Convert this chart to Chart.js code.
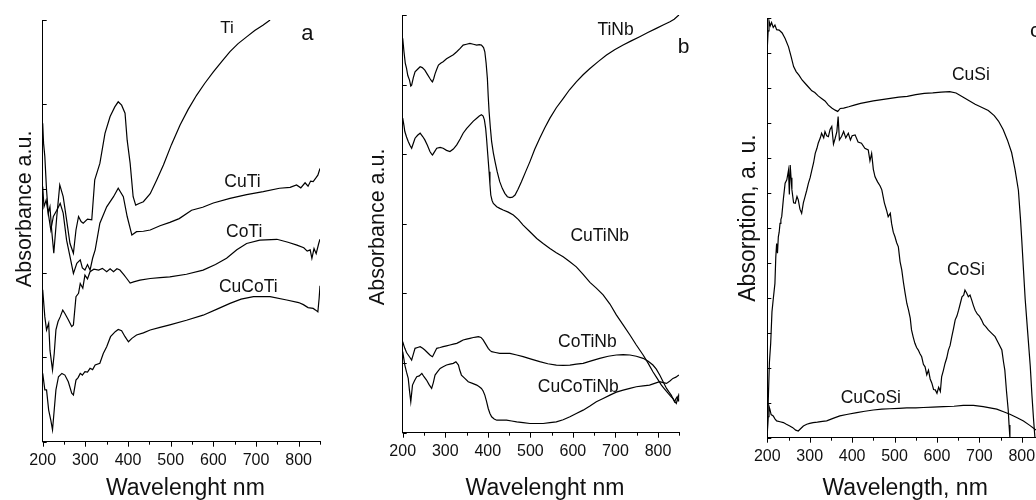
<!DOCTYPE html>
<html>
<head>
<meta charset="utf-8">
<script src="https://cdn.jsdelivr.net/npm/chart.js@4.4.1/dist/chart.umd.min.js"></script>
<style>
  html, body { margin: 0; padding: 0; background: #fff; overflow: hidden; }
  body { width: 1036px; height: 500px; position: relative; }
  .panel { position: absolute; top: 0; height: 500px; }
</style>
</head>
<body>
<div class="panel" style="left:0;width:340px"><canvas id="chartA"></canvas></div>
<div class="panel" style="left:340px;width:350px"><canvas id="chartB"></canvas></div>
<div class="panel" style="left:690px;width:360px"><canvas id="chartC"></canvas></div>
<script>
// --- DATA: [wavelength nm, absorbance a.u. (0-100)] ---

// panel a
const ti = [[200,75.5],[202,70.8],[205,67.6],[209,59.7],[213,54.2],[217,55.7],[221,50.2],[226,44.7],[233,53.4],[240,60.9],[248,58.1],[256,52.6],[264,47],[272,44.7],[278,50.2],[284,53.4],[290,52.2],[295,51.8],[305,52.8],[315,52.6],[322,62.1],[334,66],[346,73.1],[358,77.1],[369,79.4],[377,80.6],[385,79.8],[393,77.9],[398,71.5],[405,66],[412,58.1],[418,56.1],[426,56.5],[436,56.9],[452,58.8],[467,62],[483,65.6],[502,70.5],[522,75.1],[541,78.8],[561,82.2],[580,85],[600,87.7],[620,90.2],[639,92.5],[658,94.4],[678,96],[697,97.5],[717,98.8],[733,100]];
const cuTi = [[200,60.5],[203,55.7],[208,57.3],[213,54.2],[219,50.2],[225,53.4],[233,54.9],[241,56.5],[248,54.2],[256,47.8],[264,43.9],[272,39.9],[280,42.3],[288,43.1],[293,41.2],[299,40.7],[305,42],[311,40.7],[317,43.5],[323,45.5],[334,51.8],[350,55.7],[366,58.1],[377,60.1],[389,58.1],[398,53.4],[409,49],[420,49.8],[436,49.9],[452,50.2],[475,51.2],[498,52],[520,52.9],[549,54.9],[575,55.6],[600,56.6],[639,57.7],[678,58.6],[717,59.3],[755,60.1],[780,60.3],[795,60.9],[805,60.2],[815,61.4],[822,60.6],[828,61.8],[834,61.7],[840,62.5],[845,63.2],[850,64.8]];
const coTi = [[200,36],[205,29.6],[209,26.5],[214,28.1],[217,21.7],[223,17],[227,20.9],[231,26.5],[236,28.5],[241,29.6],[247,31.2],[252,30.4],[260,28.9],[268,27.3],[272,27.7],[278,34.4],[284,35.2],[288,37.5],[294,36.4],[299,39.5],[305,38.6],[311,40.3],[320,40.9],[331,40.7],[340,41.1],[350,40.3],[358,41],[366,40.3],[374,41],[381,40.7],[390,39.6],[397,38.7],[405,37.6],[413,37.9],[428,38.3],[452,38.7],[475,38.9],[498,39.1],[537,39.7],[576,40.7],[605,42],[631,43.5],[655,45.5],[678,47],[709,47.8],[749,48],[775,47.3],[796,46.6],[812,46],[820,45.2],[827,45.5],[831,43.5],[836,45.8],[841,44.6],[847,47],[850,48]];
const cuCoTi = [[200,16.2],[205,12.3],[209,12.3],[214,7.5],[219,5.1],[223,2.8],[227,7.5],[231,12.3],[237,15.4],[245,16.2],[252,15.8],[260,14.2],[268,11.5],[272,11.1],[278,14.6],[283,15.2],[288,16.2],[293,15.8],[299,16.6],[305,16.5],[311,17.4],[317,17.1],[323,18.2],[334,18.6],[342,20.9],[350,22.5],[359,24.9],[370,26.1],[377,26.6],[385,26.3],[393,24.9],[401,23.7],[409,24.5],[420,25.3],[436,25.8],[452,26.5],[475,27.1],[498,27.7],[537,28.8],[576,30],[610,31.5],[639,32.8],[665,33.8],[694,34.4],[733,34.4],[772,33.6],[800,33],[811,32.5],[822,31.8],[834,31.6],[840,31.2],[845,30.8],[848,34],[850,37]];

// panel b
const tiNb = [[200,94.4],[203,91.2],[206,88.5],[209,87.2],[212,85.5],[216,84.4],[219,83],[221,83.2],[225,85],[229,86.4],[235,87],[241,87.6],[246,87.4],[252,86.8],[258,85.8],[264,84.8],[268,84.2],[270,84],[273,84.8],[276,85.9],[280,87],[284,88],[290,88.5],[295,88.8],[303,89.5],[311,90],[319,90.5],[327,91.2],[335,92],[342,92.8],[350,93],[358,93.2],[366,93],[374,92.8],[380,92.9],[385,92.8],[390,92.2],[393,91.2],[396,88.5],[399,84.8],[401,80.5],[403,76.9],[406,73],[409,69.7],[413,67],[417,64.9],[422,62.5],[428,60.1],[434,58.5],[440,57.3],[446,56.5],[452,56.3],[458,56.4],[464,56.9],[471,58.3],[479,60.1],[489,62.5],[499,64.9],[510,67.8],[522,70.5],[534,73],[546,75.3],[561,77.8],[577,80],[592,82.1],[608,84],[624,85.7],[640,87.2],[660,88.9],[679,90.4],[698,91.7],[718,92.8],[737,93.8],[757,94.8],[776,95.8],[796,96.8],[812,97.6],[828,98.4],[838,99],[847,99.8],[850,100]];
const cuTiNb = [[200,75.3],[203,73.5],[205,72.1],[209,70.8],[213,69.7],[217,68.8],[221,68.1],[225,69.3],[229,70.5],[235,71.2],[241,71.7],[247,70.9],[252,70.1],[258,68.8],[264,67.3],[268,66.7],[270,66.5],[275,67.3],[280,68.1],[288,68.3],[295,68.1],[303,67.6],[311,67.3],[319,67.9],[327,68.9],[335,70.3],[342,71.7],[350,72.8],[358,73.7],[366,74.6],[374,75.3],[380,75.8],[385,76.1],[389,75.8],[392,74.9],[395,72.8],[397,70.5],[400,66.5],[403,62.5],[405,59.5],[407,56.9],[410,55.6],[413,54.9],[421,54.1],[428,53.7],[436,53.3],[448,52.8],[460,52.1],[472,51],[483,49.7],[499,48.1],[515,46.5],[530,45.3],[546,44.1],[561,43.1],[577,42.1],[592,41],[608,39.7],[624,37.9],[640,36],[655,34.6],[671,33],[687,30.8],[702,28.2],[718,25.8],[734,23.4],[749,21],[765,18.6],[777,16.6],[788,14.6],[798,13],[808,11.4],[816,10.4],[824,9.4],[830,8.7],[835,8.2],[839,7.5],[843,7],[846,8.2],[849,9]];
const coTiNb = [[200,21.8],[203,20.8],[205,20.2],[209,19.2],[213,18.6],[217,18],[221,17.4],[225,18.8],[229,20.2],[235,20.4],[241,20.6],[247,20.2],[252,19.8],[258,19.2],[264,18.6],[268,18.3],[270,18.2],[275,19.2],[280,20.2],[288,20.4],[295,20.6],[303,20.8],[311,21],[319,21.2],[327,21.4],[335,21.8],[342,22.2],[350,22.4],[358,22.6],[366,22.8],[372,22.9],[378,23],[384,22.8],[389,22.2],[395,21.2],[401,20.2],[405,19.7],[409,19.4],[418,19.2],[428,19],[440,19],[452,19],[468,18.6],[483,18.2],[502,17.6],[522,17],[541,16.5],[561,16.2],[577,16.1],[593,16.2],[608,16.4],[624,16.6],[643,17.2],[663,17.8],[683,18.3],[702,18.6],[718,18.7],[734,18.6],[749,18.3],[765,17.8],[777,17.1],[788,16.2],[796,15.2],[804,13.8],[812,12.2],[820,10.6],[826,9.7],[831,9],[835,8.2],[839,7.4],[842,8.1],[845,8.6],[847,7.6],[849,9.4]];
const cuCoTiNb = [[200,19.4],[203,17.5],[205,16.2],[209,14.5],[213,13],[216,10],[219,7.4],[223,11.4],[228,12.5],[233,13.4],[239,13.6],[245,14.2],[250,13.4],[256,12.6],[262,11.5],[268,10.6],[272,12],[276,13.8],[282,14.6],[288,15.4],[295,15.8],[303,16.2],[311,16.4],[319,16.6],[325,17],[331,16.2],[334,15],[338,13.8],[346,13],[354,12.2],[364,11.8],[374,11.4],[380,11],[385,10.6],[389,10],[393,9],[397,7.5],[401,5.8],[405,4.6],[409,3.8],[415,3.3],[421,3],[433,3],[444,3],[456,2.8],[468,2.6],[483,2.4],[499,2.2],[515,2.2],[530,2.2],[546,2.4],[561,2.6],[577,3.1],[593,3.8],[608,4.6],[624,5.4],[640,6.4],[655,7.4],[671,8.2],[687,9],[702,9.7],[718,10.2],[734,10.6],[749,11],[765,11.2],[780,11.4],[792,11.8],[804,12.2],[812,12],[820,11.8],[828,12.4],[835,13],[842,13.3],[849,13.8]];

// panel c
const cuSi = [[200,93],[202,97],[204,99.4],[207,98.2],[210,99],[214,97.8],[218,98.4],[222,97.3],[228,97.2],[235,96.5],[242,95.2],[250,93.2],[256,90.9],[262,88.5],[268,87.3],[275,86.4],[282,85.3],[290,84.4],[298,83.5],[305,82.7],[312,82.3],[320,81.5],[328,80.9],[336,80.3],[344,79.3],[352,78.6],[360,78.1],[366,77.8],[372,78.5],[380,78.6],[392,78.9],[405,79.3],[420,79.7],[435,80],[450,80.3],[470,80.6],[490,80.9],[510,81.2],[530,81.4],[550,81.8],[570,82.1],[590,82.2],[610,82.4],[630,82.5],[645,82.2],[660,81.3],[675,80.4],[690,79.5],[705,78.8],[721,78],[735,76.8],[745,75.5],[756,73.5],[766,71],[776,68],[784,64],[792,59],[797,52],[800,47],[804,40],[808,33],[814,25],[820,17],[824,10],[828,4],[831,0]];
const coSi = [[200,0.2],[202,8],[205,18],[208,22.5],[211,30],[214,33],[218,36.8],[220,43],[222,46.3],[224,44],[226,47.9],[228,49],[230,51.1],[232,52],[234,52.7],[238,57],[242,60.7],[246,61.5],[250,63.8],[252,58],[254,65],[256,62],[258,59.1],[262,56],[266,55.9],[270,57.5],[273,56.7],[277,54.5],[281,53.5],[285,56],[289,57.5],[293,59],[297,60.7],[301,62],[305,63.8],[309,65.5],[313,67.8],[317,69],[320,70.2],[325,71.5],[328,72.6],[333,71.5],[336,73],[340,72],[344,71.8],[348,73.5],[352,74.2],[356,70],[360,71.4],[364,73],[367,76.6],[370,71],[375,71.8],[380,73],[385,71.5],[391,72.6],[396,71],[400,72],[407,72.2],[414,70.5],[422,70.2],[430,69],[438,68.6],[442,66],[446,67.8],[450,64],[454,62.2],[460,61],[466,60],[470,59.1],[476,56],[481,54.3],[485,52.7],[490,53.5],[493,51.1],[497,49],[501,47.9],[505,46.5],[509,45.5],[513,42],[517,40],[521,37],[525,34.4],[529,32],[533,30.4],[537,28.5],[540,25.7],[544,24],[548,22.5],[552,21.5],[556,20.9],[560,20],[564,19.3],[568,17.5],[572,16.9],[576,15],[580,16.1],[584,14],[588,13],[592,11.5],[596,11.4],[600,10.6],[604,12],[608,11],[611,14.5],[615,16],[619,17.7],[623,19],[627,20.9],[631,22],[635,24.1],[639,26],[643,28.1],[647,29],[651,30.4],[655,32],[659,33.6],[663,34],[666,35.2],[670,34.5],[674,33.6],[678,34],[682,32.8],[686,31.5],[690,30.4],[695,29.5],[700,29],[705,28.1],[710,27],[715,26.5],[721,25.7],[728,25],[737,24.1],[745,22.5],[753,20.9],[757,18],[760,16.1],[764,11],[768,6.6],[770,3],[772,0]];
const cuCoSi = [[200,1.5],[202,5],[204,7.5],[206,6.8],[209,5.5],[214,5.2],[218,4.5],[222,4],[230,3.8],[238,3.6],[245,3.2],[253,2.8],[260,2.4],[267,1.8],[273,1.6],[279,2.2],[285,2.8],[293,3.2],[300,3.4],[308,3.6],[318,3.7],[330,3.9],[340,4],[355,4.6],[371,5.2],[390,5.6],[411,6],[430,6.3],[450,6.6],[470,6.8],[489,6.9],[510,7],[529,7.1],[550,7.1],[568,7.2],[590,7.3],[615,7.4],[640,7.5],[662,7.7],[686,7.7],[709,7.4],[725,7.1],[741,6.8],[757,6.2],[772,5.6],[788,4.8],[804,4],[818,3],[831,2],[840,1.5]];

const xTickLabels = [200, 300, 400, 500, 600, 700, 800];

const FONT = '"Liberation Sans", Arial, sans-serif';

// --- fungsi bikin satu panel ---
function makePanel(id, cfg) {
  const decor = {
    id: 'decor_' + id,
    afterDraw(chart) {
      const ctx = chart.ctx;
      const a = chart.chartArea;
      const x = chart.scales.x, y = chart.scales.y;
      ctx.save();
      ctx.strokeStyle = '#000';
      ctx.lineWidth = 1;
      ctx.beginPath();
      // tick bawah: mayor tiap 100, minor tiap 50
      for (let v = 200; v <= 850; v += 50) {
        const px = Math.round(x.getPixelForValue(v)) + 0.5;
        ctx.moveTo(px, a.bottom);
        ctx.lineTo(px, a.bottom + (v % 100 === 0 ? 5 : 3));
      }
      // tick kiri ke dalam
      y.ticks.forEach(t => {
        const py = Math.round(y.getPixelForValue(t.value)) + 0.5;
        ctx.moveTo(a.left, py);
        ctx.lineTo(a.left + 4, py);
      });
      ctx.stroke();

      ctx.fillStyle = '#111';
      ctx.textAlign = 'center';
      ctx.textBaseline = 'alphabetic';
      cfg.notes.forEach(n => {
        ctx.font = n.size + 'px ' + FONT;
        ctx.fillText(n.text, x.getPixelForValue(n.nm), y.getPixelForValue(n.au));
      });

      // judul sumbu
      ctx.textBaseline = 'middle';
      ctx.font = '23px ' + FONT;
      ctx.fillText(cfg.xTitle, (a.left + a.right) / 2 + cfg.xTitleDx, 488.5);
      ctx.translate(a.left - cfg.yTitleGap, (a.top + a.bottom) / 2 + cfg.yTitleDy);
      ctx.rotate(-Math.PI / 2);
      ctx.font = cfg.yTitleSize + 'px ' + FONT;
      ctx.fillText(cfg.yTitle, 0, 0);
      ctx.restore();
    }
  };

  return new Chart(document.getElementById(id), {
    type: 'line',
    data: {
      datasets: cfg.series.map(s => ({
        data: s.map(p => ({ x: p[0], y: p[1] })),
        borderColor: '#000',
        borderWidth: 1.2,
        pointRadius: 0,
        fill: false,
        tension: 0
      }))
    },
    options: {
      responsive: true,
      maintainAspectRatio: false,
      animation: false,
      events: [],
      layout: { padding: { top: cfg.area.top, right: cfg.width - cfg.area.right, left: 0, bottom: 0 } },
      plugins: { legend: { display: false }, tooltip: { enabled: false } },
      scales: {
        x: {
          type: 'linear', min: 200, max: 850,
          grid: { display: false, drawTicks: false },
          border: { display: true, color: '#000', width: 1 },
          ticks: {
            stepSize: 100, includeBounds: false, padding: cfg.tickPad, maxRotation: 0,
            color: '#111', font: { family: FONT, size: 16 },
            callback: v => xTickLabels.includes(v) ? String(v) : ''
          },
          afterFit: s => { s.height = 500 - cfg.area.bottom; }
        },
        y: {
          min: 0, max: 100,
          grid: { display: false, drawTicks: false },
          border: { display: true, color: '#000', width: 1 },
          ticks: { display: false, stepSize: cfg.yStep },
          afterFit: s => { s.width = cfg.area.left; }
        }
      }
    },
    plugins: [decor]
  });
}

makePanel('chartA', {
  width: 340,
  area: { left: 42.7, right: 320, top: 20, bottom: 441.7 },
  tickPad: 9, yStep: 20,
  series: [ti, cuTi, coTi, cuCoTi],
  xTitle: 'Wavelenght nm', xTitleDx: 4,
  yTitle: 'Absorbance a.u.', yTitleSize: 21.5, yTitleGap: 18, yTitleDy: -22,
  notes: [
    { text: 'Ti', nm: 632, au: 96.8, size: 17 },
    { text: 'a', nm: 820.6, au: 95.3, size: 22 },
    { text: 'CuTi', nm: 668.3, au: 60.5, size: 17.5 },
    { text: 'CoTi', nm: 672.2, au: 48.6, size: 17.5 },
    { text: 'CuCoTi', nm: 681.8, au: 35.6, size: 17.5 }
  ]
});

makePanel('chartB', {
  width: 350,
  area: { left: 62.7, right: 339.3, top: 15, bottom: 432.7 },
  tickPad: 9.6, yStep: 100 / 6,
  series: [tiNb, cuTiNb, coTiNb, cuCoTiNb],
  xTitle: 'Wavelenght nm', xTitleDx: 4,
  yTitle: 'Absorbance a.u.', yTitleSize: 21.5, yTitleGap: 24.7, yTitleDy: 3,
  notes: [
    { text: 'TiNb', nm: 700.2, au: 95.2, size: 17.5 },
    { text: 'b', nm: 859.9, au: 90.8, size: 21 },
    { text: 'CuTiNb', nm: 663.1, au: 46, size: 17.5 },
    { text: 'CoTiNb', nm: 633.9, au: 20.6, size: 17.5 },
    { text: 'CuCoTiNb', nm: 612.6, au: 9.8, size: 17.5 }
  ]
});

makePanel('chartC', {
  width: 360,
  area: { left: 77.3, right: 353, top: 18.3, bottom: 437.7 },
  tickPad: 9.6, yStep: 100 / 12,
  series: [cuSi, coSi, cuCoSi],
  xTitle: 'Wavelength, nm', xTitleDx: 0,
  yTitle: 'Absorption, a. u.', yTitleSize: 23, yTitleGap: 18.3, yTitleDy: -10,
  notes: [
    { text: 'CuSi', nm: 680, au: 85.3, size: 17.5 },
    { text: 'c', nm: 832, au: 95.6, size: 21 },
    { text: 'CoSi', nm: 668.2, au: 38.8, size: 17.5 },
    { text: 'CuCoSi', nm: 444.1, au: 8.2, size: 17.5 }
  ]
});
</script>
</body>
</html>
